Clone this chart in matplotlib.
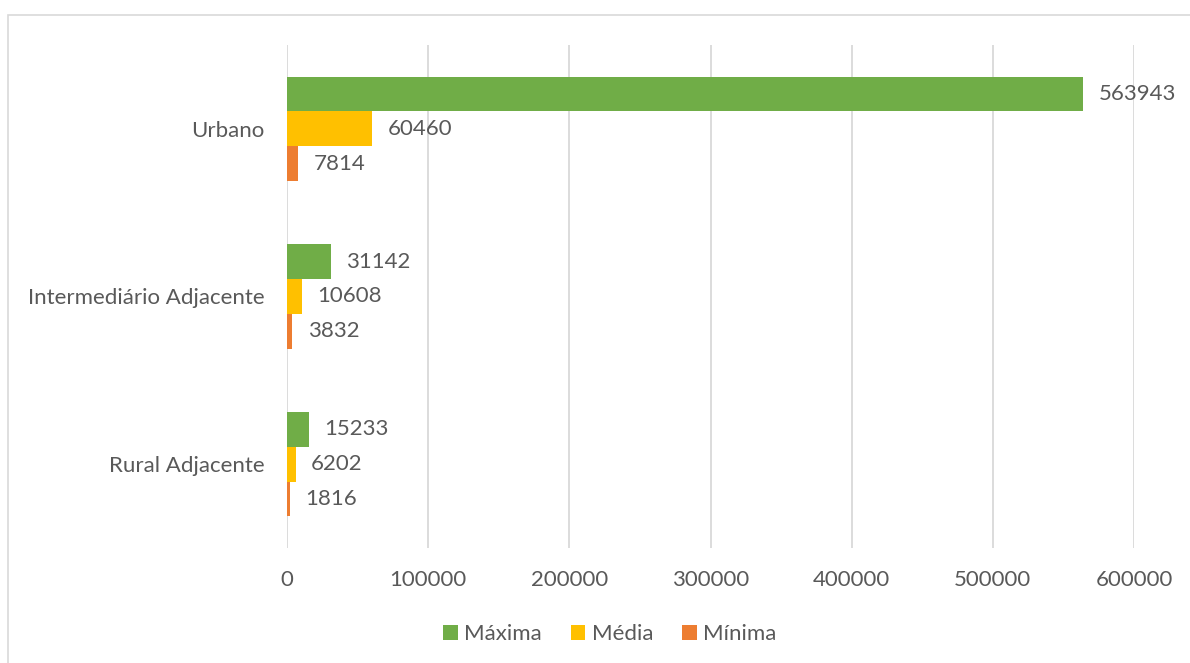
import matplotlib.pyplot as plt
import numpy as np
from matplotlib.patches import Rectangle

categories = ["Urbano", "Intermediário Adjacente", "Rural Adjacente"]
series_names = ["Máxima", "Média", "Mínima"]
maxima = [563943, 31142, 15233]
media = [60460, 10608, 6202]
minima = [7814, 3832, 1816]
x_ticks = [0, 100000, 200000, 300000, 400000, 500000, 600000]

colors = ["#70AD47", "#FFC000", "#ED7D31"]
text_color = "#595959"
grid_color = "#D9D9D9"

plt.rcParams["font.family"] = ["Lato", "DejaVu Sans"]

fig = plt.figure(figsize=(11.9, 6.63), dpi=100)
ax = fig.add_axes([287 / 1190, 1 - 548 / 663, 847 / 1190, 503 / 663])

# outer chart border
fig.patches.append(Rectangle((8 / 1190, -0.01), 1.02, 1 - 15 / 663 + 0.01,
                             transform=fig.transFigure, fill=False,
                             edgecolor=grid_color, linewidth=1.2))

y = np.arange(len(categories))
bar_h = 0.207
values = [maxima, media, minima]
for i, (name, vals, c) in enumerate(zip(series_names, values, colors)):
    pos = y + (i - 1) * bar_h
    bars = ax.barh(pos, vals, height=bar_h, color=c, label=name, zorder=3)
    ax.bar_label(bars, labels=[str(v) for v in vals], padding=11,
                 fontsize=16, color=text_color)

ax.set_ylim(len(categories) - 0.5, -0.5)
ax.set_xlim(0, 600000)
ax.set_xticks(x_ticks)
ax.set_xticklabels([str(t) for t in x_ticks])
ax.set_yticks(y)
ax.set_yticklabels(categories)
ax.tick_params(axis="both", length=0, labelsize=16, colors=text_color)
ax.tick_params(axis="x", pad=16)
ax.tick_params(axis="y", pad=16)
ax.grid(axis="x", color=grid_color, linewidth=1.3, zorder=0)
for s in ax.spines.values():
    s.set_visible(False)

ax.legend(loc="center", bbox_to_anchor=(610 / 1190, 1 - 634 / 663),
          bbox_transform=fig.transFigure, ncol=3, frameon=False,
          fontsize=16, labelcolor=text_color, handlelength=0.65,
          handleheight=0.65, handletextpad=0.3, columnspacing=1.3)

fig.savefig("out.png", dpi=100, facecolor="white")
